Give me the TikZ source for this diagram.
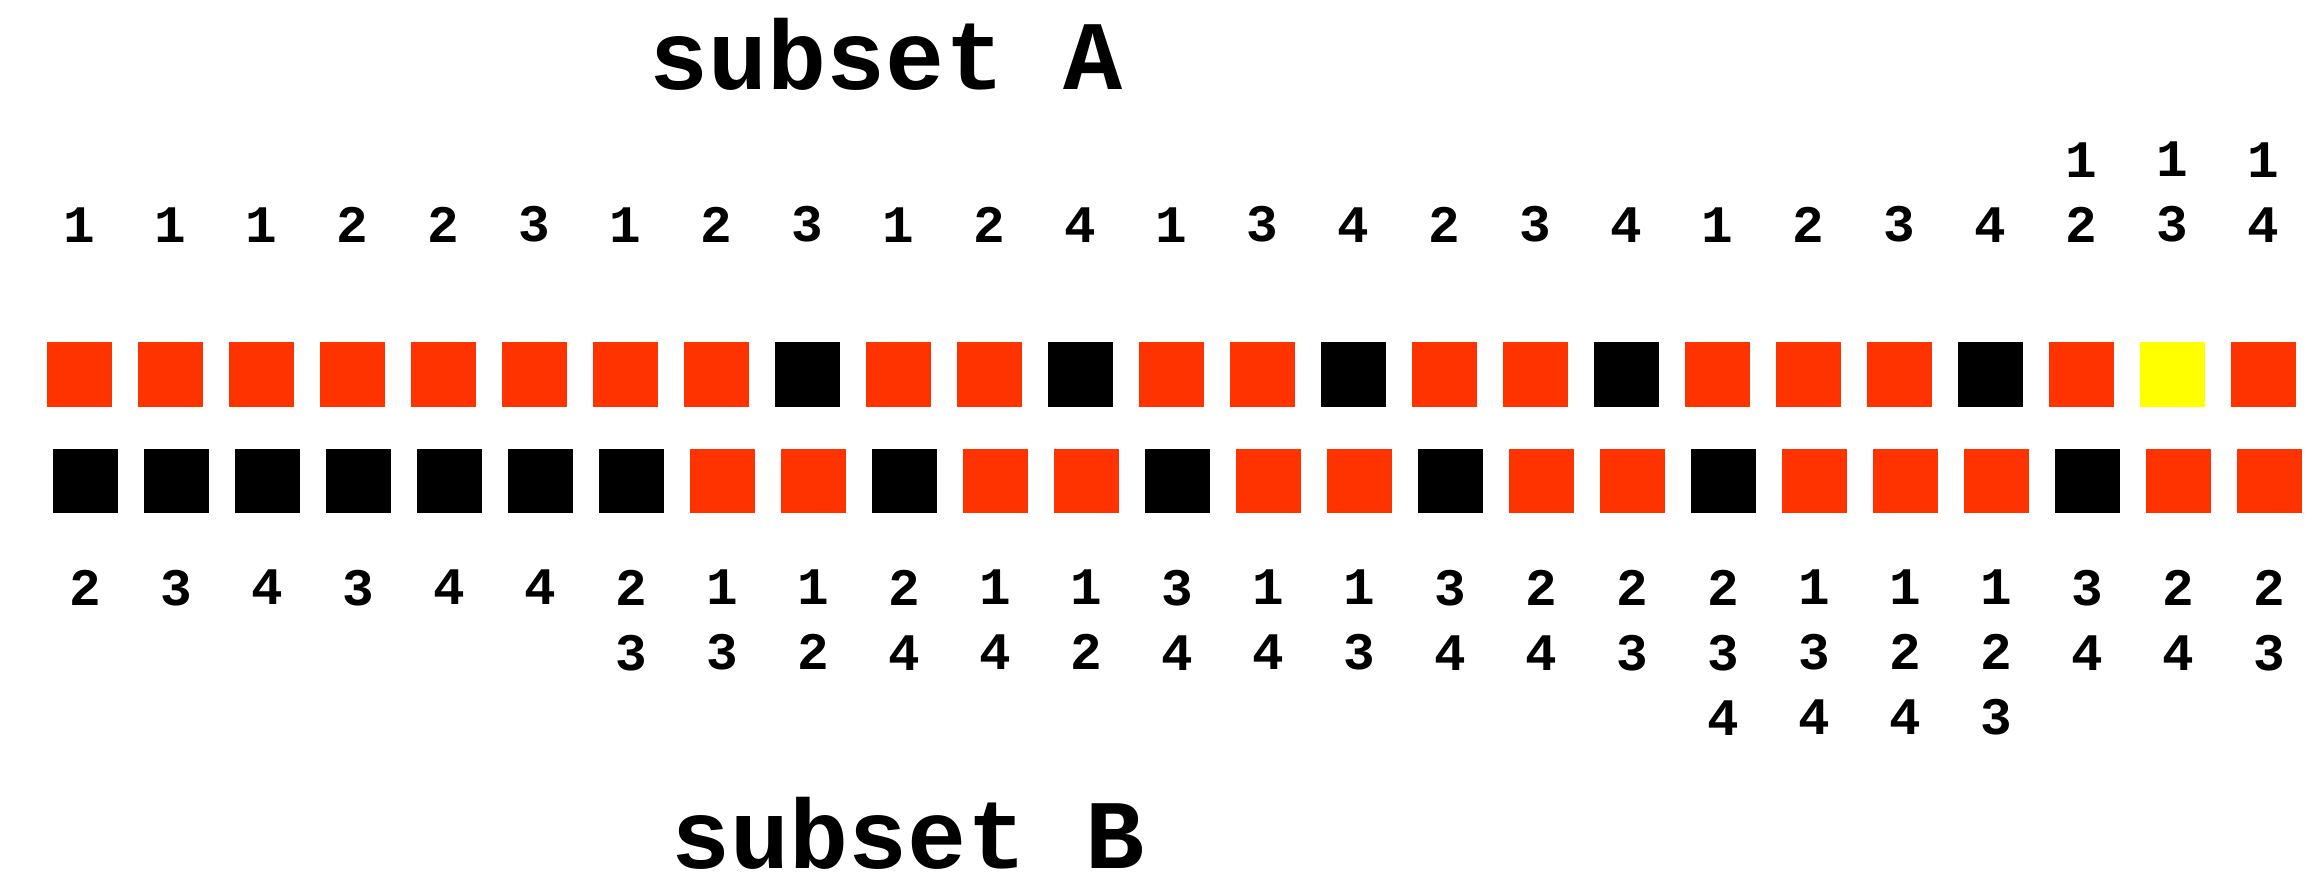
\documentclass[tikz,border=0pt]{standalone}
\usepackage{fontspec}
\setmonofont{Liberation Mono}
\usetikzlibrary{positioning}
\definecolor{hitred}{RGB}{255,51,0}
\definecolor{hityellow}{RGB}{255,255,0}

\begin{document}
\begin{tikzpicture}[x=0.02cm, y=-0.02cm,
  sqbox/.style={minimum size=1.3cm, inner sep=0pt, draw=none},
  numlab/.style={font=\ttfamily\bfseries\fontsize{30}{37}\selectfont, align=center, inner sep=0pt},
  title/.style={font=\ttfamily\bfseries\fontsize{56}{60}\selectfont, inner sep=0pt, anchor=base}]
\useasboundingbox (0,0) rectangle (2305,888);

% Titles
\node[title] (titleA) at (886,90) {subset A};
\node[title] (titleB) at (908,868) {subset B};

% Subset A: upper row of squares, labels above
\foreach \lab/\col [count=\i] in {1/hitred,1/hitred,1/hitred,2/hitred,2/hitred,3/hitred,1/hitred,2/hitred,3/black,
  1/hitred,2/hitred,4/black,1/hitred,3/hitred,4/black,2/hitred,3/hitred,4/black,1/hitred,2/hitred,3/hitred,4/black,
  {1\\2}/hitred,{1\\3}/hityellow,{1\\4}/hitred} {
  \node[sqbox, fill=\col] (a\i) at ({79.5+91*(\i-1)},374.5) {};
  \node[numlab, above=1.98cm of a\i] (la\i) {\lab};
}

% Subset B: lower row of squares, labels below
\foreach \lab/\col [count=\i] in {2/black,3/black,4/black,3/black,4/black,4/black,{2\\3}/black,{1\\3}/hitred,{1\\2}/hitred,
  {2\\4}/black,{1\\4}/hitred,{1\\2}/hitred,{3\\4}/black,{1\\4}/hitred,{1\\3}/hitred,{3\\4}/black,{2\\4}/hitred,{2\\3}/hitred,
  {2\\3\\4}/black,{1\\3\\4}/hitred,{1\\2\\4}/hitred,{1\\2\\3}/hitred,{3\\4}/black,{2\\4}/hitred,{2\\3}/hitred} {
  \node[sqbox, fill=\col] (b\i) at ({85.5+91*(\i-1)},481) {};
  \node[numlab, below=1.12cm of b\i] (lb\i) {\lab};
}
\end{tikzpicture}
\end{document}
